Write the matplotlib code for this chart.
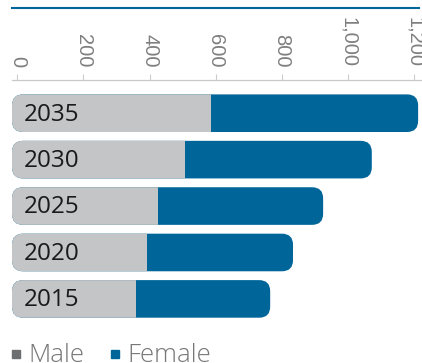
import matplotlib
matplotlib.use('Agg')
import matplotlib.pyplot as plt
from matplotlib.patches import FancyBboxPatch, Rectangle
from matplotlib.lines import Line2D

years = ['2015', '2020', '2025', '2030', '2035']
male = [360, 392, 426, 506, 586]
female = [388, 425, 482, 549, 609]
xticks = [0, 200, 400, 600, 800, 1000, 1200]

GREY = '#c4c5c7'
BLUE = '#00669a'
DARK = '#6d6e70'

W, H = 422, 363
fig = plt.figure(figsize=(W / 100, H / 100), dpi=100)
ax = fig.add_axes([12 / W, 1 - 325 / H, 410 / W, 245 / H])

xmin, xmax = -16, 1222.7
ymin, ymax = -0.562, 4.715
ax.set_xlim(xmin, xmax)
ax.set_ylim(ymin, ymax)

# data units per pixel, used so the rounded corners stay circular
axpx_w, axpx_h = 410, 245
ux = (xmax - xmin) / axpx_w
uy = (ymax - ymin) / axpx_h
asp = uy / ux
pad = 5.3 * ux
r = 11 * ux
h = 27 * uy

for i, (m, f) in enumerate(zip(male, female)):
    tot = m + f
    y0 = i - h / 2
    bar = FancyBboxPatch((0, y0), tot, h, boxstyle=f'round,pad={pad},rounding_size={r}',
                         mutation_aspect=asp, fc=BLUE, ec='none')
    ax.add_patch(bar)
    grey = FancyBboxPatch((0, y0), tot, h, boxstyle=f'round,pad={pad},rounding_size={r}',
                          mutation_aspect=asp, fc=GREY, ec='none')
    ax.add_patch(grey)
    clip = Rectangle((xmin - 50, i - 1), m - xmin + 50, 2, transform=ax.transData)
    grey.set_clip_path(clip)
    ax.text(20, i - 0.03, years[i], ha='left', va='center', fontsize=17.5,
            family='Open Sans', color='#1a1a1a')

ax.xaxis.tick_top()
ax.set_xticks(xticks)
ax.set_xticklabels([f'{v:,}' for v in xticks], rotation=-90, family='Liberation Sans',
                   fontsize=14.5, color='#7f7f7f')
ax.tick_params(axis='x', length=4.3, width=0.8, color='#cccccc', pad=5, direction='out')
ax.set_yticks([])
for s in ['left', 'right', 'bottom']:
    ax.spines[s].set_visible(False)
ax.spines['top'].set_color('#c8c8c8')
ax.spines['top'].set_linewidth(0.9)

fig.add_artist(Line2D([12 / W, 419 / W], [1 - 8 / H] * 2, color=BLUE, lw=1.5))

handles = [Line2D([], [], marker='s', ls='', color=DARK, markersize=5.5),
           Line2D([], [], marker='s', ls='', color=BLUE, markersize=5.5)]
fig.legend(handles, ['Male', 'Female'], ncol=2, frameon=False,
           prop={'family': 'Open Sans', 'size': 18.5, 'weight': 'light'}, labelcolor='#777777',
           handlelength=0.45, handletextpad=0.25, columnspacing=1.0,
           borderaxespad=0, borderpad=0, loc='center left',
           bbox_to_anchor=(10 / W, 1 - 356 / H))

fig.savefig('out.png', dpi=100)
